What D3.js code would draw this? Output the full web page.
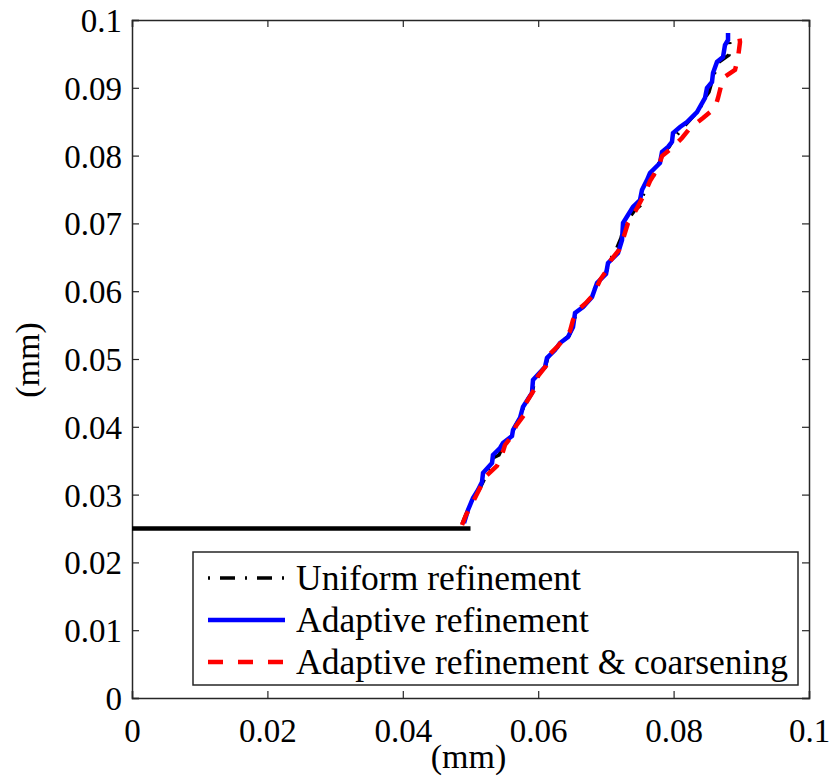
<!DOCTYPE html>
<html>
<head>
<meta charset="utf-8">
<script src="https://cdn.jsdelivr.net/npm/d3@7"></script>
<style>
  body { margin: 0; background: #fff; }
  text { font-family: "Liberation Serif", "DejaVu Serif", serif; }
</style>
</head>
<body>
<div id="chart"></div>
<script>
// initial crack
const crackX = [0, 0.05];
const crackY = [0.025, 0.025];

// adaptive refinement (blue)
const adaptX = [0.04904, 0.04963, 0.05037, 0.05111, 0.05170, 0.05185, 0.05318, 0.05332, 0.05436, 0.05480,
  0.05613, 0.05628, 0.05731, 0.05775, 0.05908, 0.05923, 0.06100, 0.06130, 0.06248, 0.06322,
  0.06440, 0.06514, 0.06544, 0.06662, 0.06795, 0.06869, 0.07002, 0.07031, 0.07179, 0.07238,
  0.07253, 0.07400, 0.07504, 0.07533, 0.07607, 0.07651, 0.07799, 0.07829, 0.07917, 0.07976,
  0.07991, 0.08095, 0.08198, 0.08346, 0.08464, 0.08493, 0.08567, 0.08582, 0.08641, 0.08730,
  0.08759, 0.08804, 0.08804];
const adaptY = [0.02581, 0.02773, 0.02950, 0.03068, 0.03186, 0.03319, 0.03466, 0.03584, 0.03687, 0.03761,
  0.03864, 0.03953, 0.04130, 0.04292, 0.04499, 0.04690, 0.04882, 0.05015, 0.05133, 0.05236,
  0.05324, 0.05472, 0.05678, 0.05767, 0.05914, 0.06121, 0.06254, 0.06416, 0.06563, 0.06755,
  0.07006, 0.07242, 0.07345, 0.07493, 0.07640, 0.07743, 0.07891, 0.08053, 0.08127, 0.08201,
  0.08333, 0.08422, 0.08496, 0.08643, 0.08850, 0.08997, 0.09086, 0.09218, 0.09381, 0.09454,
  0.09631, 0.09705, 0.09808];

// uniform refinement (black dash-dot)
const uniformX = [0.04875, 0.04948, 0.05037, 0.05126, 0.05214, 0.05273, 0.05332, 0.05421, 0.05480, 0.05598,
  0.05643, 0.05746, 0.05790, 0.05908, 0.05953, 0.06100, 0.06145, 0.06263, 0.06337, 0.06455,
  0.06514, 0.06558, 0.06677, 0.06780, 0.06869, 0.07001, 0.07046, 0.07149, 0.07223, 0.07267,
  0.07430, 0.07518, 0.07563, 0.07636, 0.07710, 0.07784, 0.07843, 0.07932, 0.07991, 0.08109,
  0.08227, 0.08375, 0.08464, 0.08523, 0.08552, 0.08611, 0.08671, 0.08818, 0.08833, 0.08818];
const uniformY = [0.02566, 0.02743, 0.02950, 0.03068, 0.03245, 0.03392, 0.03540, 0.03584, 0.03717, 0.03850,
  0.03982, 0.04159, 0.04322, 0.04499, 0.04690, 0.04867, 0.05029, 0.05133, 0.05251, 0.05339,
  0.05487, 0.05678, 0.05782, 0.05914, 0.06121, 0.06268, 0.06431, 0.06608, 0.06785, 0.06976,
  0.07198, 0.07271, 0.07463, 0.07670, 0.07714, 0.07891, 0.08053, 0.08127, 0.08230, 0.08378,
  0.08510, 0.08673, 0.08850, 0.08938, 0.09041, 0.09233, 0.09381, 0.09484, 0.09631, 0.09749];

// adaptive refinement & coarsening (red dashed)
const coarseX = [0.04875, 0.04934, 0.05066, 0.05140, 0.05229, 0.05391, 0.05450, 0.05509, 0.05613, 0.05672,
  0.05790, 0.05820, 0.05938, 0.05997, 0.06115, 0.06174, 0.06292, 0.06396, 0.06470, 0.06514,
  0.06588, 0.06706, 0.06824, 0.06913, 0.07016, 0.07075, 0.07194, 0.07267, 0.07326, 0.07445,
  0.07578, 0.07651, 0.07770, 0.07829, 0.07976, 0.08124, 0.08242, 0.08434, 0.08612, 0.08656,
  0.08730, 0.08907, 0.08951, 0.08981, 0.08951];
const coarseY = [0.02552, 0.02699, 0.02950, 0.03097, 0.03274, 0.03422, 0.03540, 0.03732, 0.03864, 0.04012,
  0.04174, 0.04351, 0.04543, 0.04749, 0.04897, 0.05074, 0.05192, 0.05310, 0.05413, 0.05575,
  0.05723, 0.05826, 0.05959, 0.06165, 0.06313, 0.06460, 0.06608, 0.06814, 0.07006, 0.07198,
  0.07448, 0.07625, 0.07817, 0.07994, 0.08112, 0.08260, 0.08407, 0.08555, 0.08702, 0.08850,
  0.09145, 0.09263, 0.09440, 0.09676, 0.09882];

const xTicks = [0, 0.02, 0.04, 0.06, 0.08, 0.1];
const yTicks = [0, 0.01, 0.02, 0.03, 0.04, 0.05, 0.06, 0.07, 0.08, 0.09, 0.1];
const legendLabels = ['Uniform refinement', 'Adaptive refinement', 'Adaptive refinement & coarsening'];

const svgWidth = 832, svgHeight = 780;
const margin = {left: 132, top: 20, right: 23, bottom: 82};
const innerWidth = svgWidth - margin.left - margin.right;
const innerHeight = svgHeight - margin.top - margin.bottom;

const svg = d3.select('#chart').append('svg').attr('width', svgWidth).attr('height', svgHeight);
const g = svg.append('g').attr('transform', `translate(${margin.left}, ${margin.top})`);

const xScale = d3.scaleLinear().domain([0, 0.1]).range([0, innerWidth]);
const yScale = d3.scaleLinear().domain([0, 0.1]).range([innerHeight, 0]);

const fmt = d => d === 0 ? '0' : String(+d.toFixed(2));

// axes with inward ticks on all sides
g.append('g').attr('transform', `translate(0, ${innerHeight})`)
  .call(d3.axisBottom(xScale).tickValues(xTicks).tickFormat(fmt).tickSize(-7).tickPadding(14))
  .call(a => a.selectAll('text').style('font-size', '33px').attr('dy', '0.9em'));
g.append('g')
  .call(d3.axisLeft(yScale).tickValues(yTicks).tickFormat(fmt).tickSize(-7).tickPadding(10))
  .call(a => a.selectAll('text').style('font-size', '33px').attr('dy', '0.35em'));
g.append('g')
  .call(d3.axisTop(xScale).tickValues(xTicks).tickFormat('').tickSize(-7));
g.append('g').attr('transform', `translate(${innerWidth}, 0)`)
  .call(d3.axisRight(yScale).tickValues(yTicks).tickFormat('').tickSize(-7));
g.selectAll('.domain').attr('stroke', '#262626').attr('stroke-width', 1.5);
g.selectAll('.tick line').attr('stroke', '#262626').attr('stroke-width', 1.2);
g.selectAll('.tick text').attr('fill', '#000');

// axis labels
svg.append('text')
  .attr('x', margin.left + xScale(0.05) - 2).attr('y', 768)
  .style('font-size', '34px').style('text-anchor', 'middle')
  .text('(mm)');
svg.append('text')
  .attr('transform', 'translate(39, 360) rotate(-90)')
  .style('font-size', '34px').style('text-anchor', 'middle')
  .text('(mm)');

const line = d3.line().x(d => xScale(d[0])).y(d => yScale(d[1]));
const zip = (xs, ys) => xs.map((x, i) => [x, ys[i]]);

g.append('path')
  .datum(zip(crackX, crackY))
  .attr('d', line).attr('fill', 'none')
  .attr('stroke', '#000').attr('stroke-width', 4.5);

g.append('path')
  .datum(zip(uniformX, uniformY))
  .attr('d', line).attr('fill', 'none')
  .attr('stroke', '#000').attr('stroke-width', 3.5)
  .attr('stroke-dasharray', '14,10,2,10');

g.append('path')
  .datum(zip(adaptX, adaptY))
  .attr('d', line).attr('fill', 'none')
  .attr('stroke', '#0000ff').attr('stroke-width', 4.5);

g.append('path')
  .datum(zip(coarseX, coarseY))
  .attr('d', line).attr('fill', 'none')
  .attr('stroke', '#ff0000').attr('stroke-width', 4.5)
  .attr('stroke-dasharray', '15,13');

// legend
const legend = svg.append('g').attr('transform', 'translate(193, 552)');
legend.append('rect')
  .attr('width', 605).attr('height', 133)
  .attr('fill', '#fff').attr('stroke', '#262626').attr('stroke-width', 1.5);

const legendStyles = [
  {color: '#000', dash: '2,10,15,10', width: 3.5},
  {color: '#0000ff', dash: null, width: 4.5},
  {color: '#ff0000', dash: '15,15', width: 4.5}
];

legendLabels.forEach((label, i) => {
  const y = 26 + i * 42;
  legend.append('line')
    .attr('x1', 15).attr('x2', 92).attr('y1', y).attr('y2', y)
    .attr('stroke', legendStyles[i].color)
    .attr('stroke-width', legendStyles[i].width)
    .attr('stroke-dasharray', legendStyles[i].dash);
  legend.append('text')
    .attr('x', 103).attr('y', y + 12)
    .style('font-size', '35.5px')
    .text(label);
});
</script>
</body>
</html>
